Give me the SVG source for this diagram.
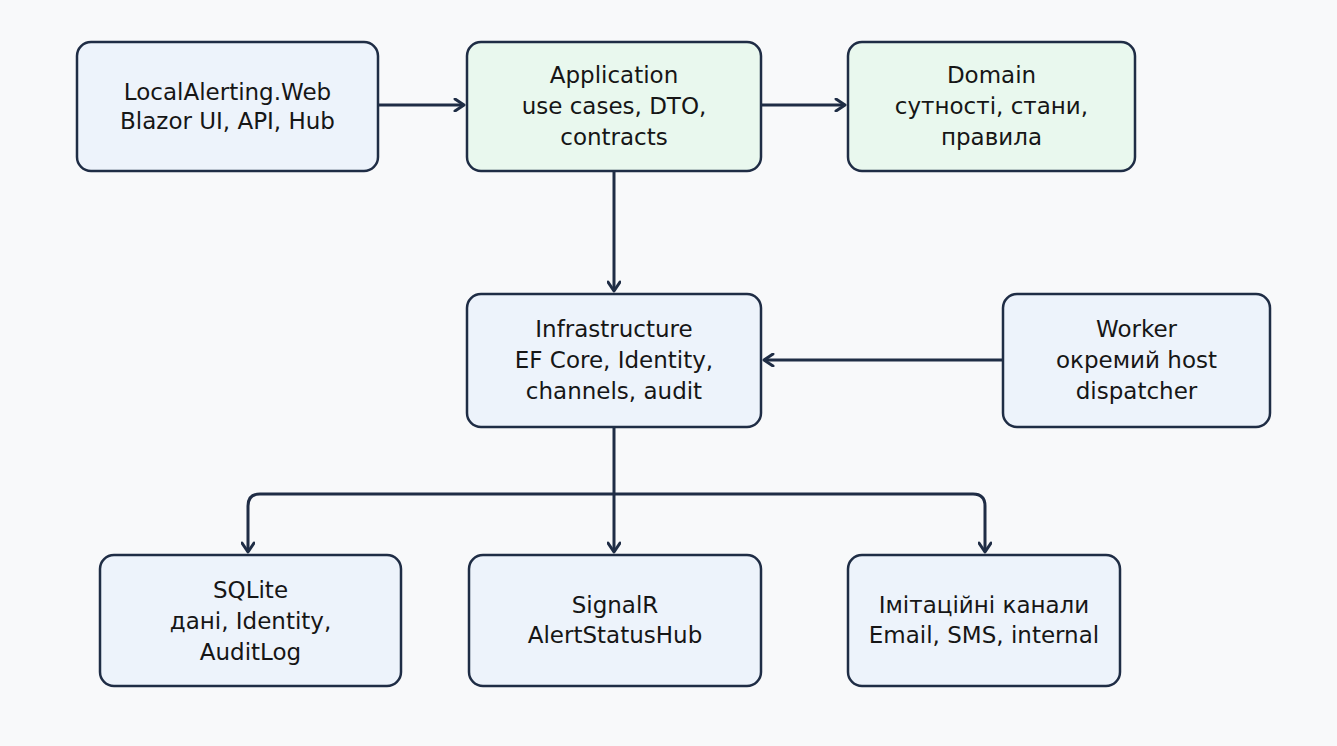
<svg xmlns="http://www.w3.org/2000/svg" width="1337" height="746" viewBox="0 0 1337 746">
<defs>
<marker id="ah" markerWidth="14" markerHeight="14" refX="11" refY="7" orient="auto" markerUnits="userSpaceOnUse">
<path d="M2,1 L11,7 L2,13" fill="none" stroke="#1f2d45" stroke-width="3" stroke-linecap="round" stroke-linejoin="round"/>
</marker>
<style>
.b{fill:#edf3fb;stroke:#1f2d45;stroke-width:2.5}
.g{fill:#e9f8ee;stroke:#1f2d45;stroke-width:2.5}
.t{font-family:"DejaVu Sans",sans-serif;font-size:23px;fill:#161616;text-anchor:middle}
.c{fill:none;stroke:#1f2d45;stroke-width:3;marker-end:url(#ah)}
</style>
</defs>
<rect width="1337" height="746" fill="#f8f9fa"/>
<g id="web"><rect class="b" x="77" y="42" width="301" height="129" rx="14"/>
<text class="t" x="227.500" y="100">LocalAlerting.Web</text><text class="t" x="227.500" y="129">Blazor UI, API, Hub</text></g>
<g id="app"><rect class="g" x="467" y="42" width="294" height="129" rx="14"/>
<text class="t" x="614" y="83">Application</text><text class="t" x="614" y="114">use cases, DTO,</text><text class="t" x="614" y="145">contracts</text></g>
<g id="domain"><rect class="g" x="848" y="42" width="287" height="129" rx="14"/>
<text class="t" x="991.500" y="83">Domain</text><text class="t" x="991.500" y="114">сутності, стани,</text><text class="t" x="991.500" y="145">правила</text></g>
<g id="infra"><rect class="b" x="467" y="294" width="294" height="133" rx="14"/>
<text class="t" x="614" y="337">Infrastructure</text><text class="t" x="614" y="368">EF Core, Identity,</text><text class="t" x="614" y="399">channels, audit</text></g>
<g id="worker"><rect class="b" x="1003" y="294" width="267" height="133" rx="14"/>
<text class="t" x="1136.500" y="337">Worker</text><text class="t" x="1136.500" y="368">окремий host</text><text class="t" x="1136.500" y="399">dispatcher</text></g>
<g id="sqlite"><rect class="b" x="100" y="555" width="301" height="131" rx="14"/>
<text class="t" x="250.500" y="598">SQLite</text><text class="t" x="250.500" y="629">дані, Identity,</text><text class="t" x="250.500" y="660">AuditLog</text></g>
<g id="signalr"><rect class="b" x="469" y="555" width="292" height="131" rx="14"/>
<text class="t" x="615" y="613">SignalR</text><text class="t" x="615" y="643">AlertStatusHub</text></g>
<g id="channels"><rect class="b" x="848" y="555" width="272" height="131" rx="14"/>
<text class="t" x="984" y="613">Імітаційні канали</text><text class="t" x="984" y="643">Email, SMS, internal</text></g>
<g id="connectors">
<path class="c" d="M378,105 H464"/>
<path class="c" d="M761,105 H845"/>
<path class="c" d="M614,171 V291"/>
<path class="c" d="M1003,360 H764"/>
<path class="c" d="M614,427 V552"/>
<path class="c" d="M614,494 H260 Q248,494 248,506 V552"/>
<path class="c" d="M614,494 H973 Q985,494 985,506 V552"/>
</g>
</svg>
